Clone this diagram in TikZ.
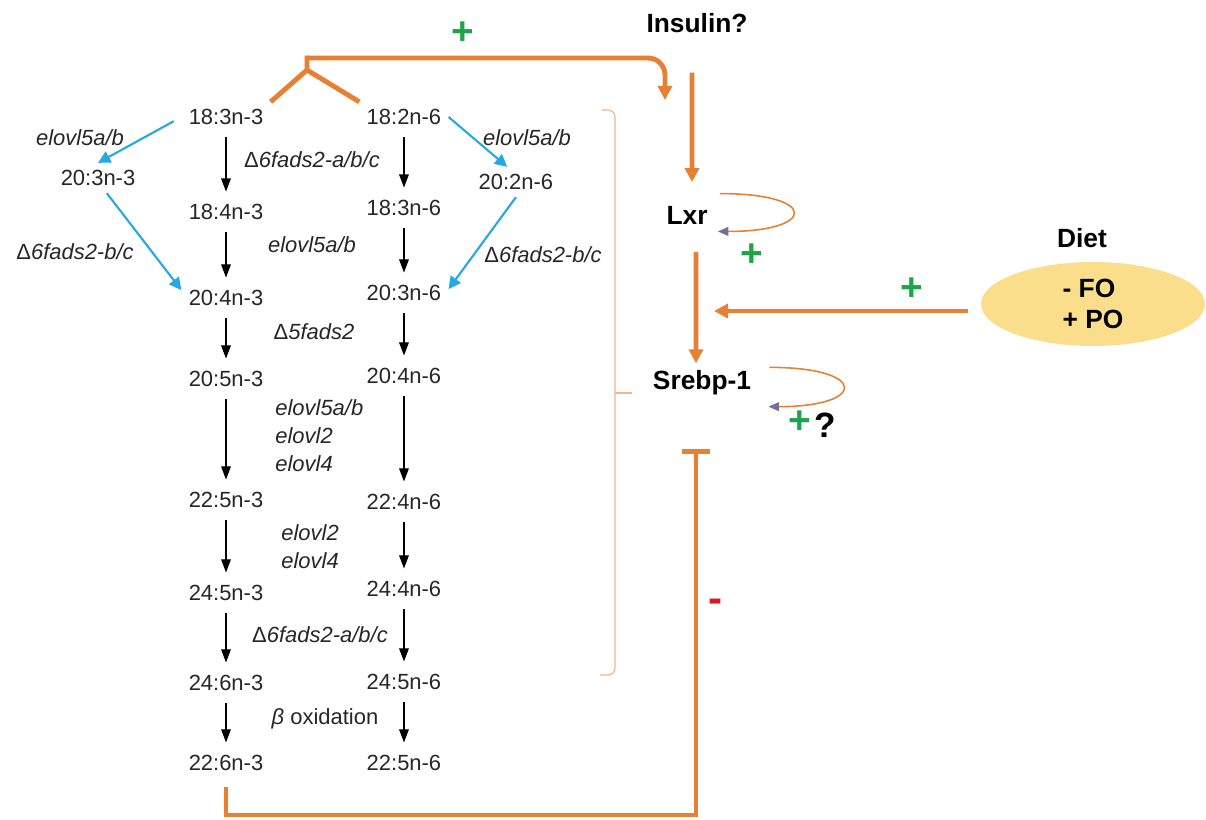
\documentclass[tikz,border=0pt]{standalone}
\usepackage{fontspec}
\setmainfont{Liberation Sans}
\usetikzlibrary{arrows.meta,positioning,shapes.geometric}

\definecolor{fborange}{RGB}{232,128,52}
\definecolor{fbblue}{RGB}{38,168,224}
\definecolor{fbgreen}{RGB}{30,165,75}
\definecolor{fbred}{RGB}{222,24,34}
\definecolor{fbyellow}{RGB}{250,222,140}
\definecolor{fbbrace}{RGB}{240,182,140}
\definecolor{fbtip}{RGB}{118,110,152}
\definecolor{fbtext}{RGB}{38,38,38}

\begin{document}
\begin{tikzpicture}[x=0.02cm,y=-0.02cm,node distance=1.8cm,
	acid/.style={text=fbtext,font=\fontsize{12.5}{16}\selectfont,inner sep=4pt},
	enzyme/.style={text=fbtext,font=\fontsize{12.5}{16}\selectfont\itshape,inner sep=0pt,align=left},
	factor/.style={font=\fontsize{15}{18}\selectfont\bfseries,inner sep=4pt},
	food/.style={ellipse,fill=fbyellow,minimum width=4.48cm,minimum height=1.68cm,inner sep=0pt,align=left,font=\fontsize{15}{17.6}\selectfont\bfseries},
	sign/.style={font=\fontsize{22}{24}\selectfont\bfseries,text=fbgreen,inner sep=0pt},
	conv/.style={-{Triangle[width=5.5pt,length=7.5pt]},line width=0.7pt,shorten <=3pt,shorten >=3pt},
	side/.style={-{Triangle[width=7pt,length=7pt]},fbblue,line width=1.2pt},
	act/.style={-{Triangle[width=8pt,length=8pt]},fborange,line width=2.8pt},
	selfloop/.style={-{Triangle[width=5pt,length=6pt,color=fbtip]},fborange,line width=0.9pt},
	block/.style={-{Bar[width=16pt]},fborange,line width=2.8pt}]
				\useasboundingbox (0,0) rectangle (1206,819);

				% n-3 series
				\node[acid] (n3a) at (226,117) {18:3n-3};
				\node[acid] (n3b) [below of=n3a, yshift=-0.1cm] {18:4n-3};
				\node[acid] (n3c) [below of=n3b, yshift=0.08cm] {20:4n-3};
				\node[acid] (n3d) [below of=n3c, yshift=0.18cm] {20:5n-3};
				\node[acid] (n3e) [below of=n3d, yshift=-0.62cm] {22:5n-3};
				\node[acid] (n3f) [below of=n3e, yshift=-0.06cm] {24:5n-3};
				\node[acid] (n3g) [below of=n3f] {24:6n-3};
				\node[acid] (n3h) [below of=n3g, yshift=0.2cm] {22:6n-3};
				\node[acid] (n3x) [left of=n3a, xshift=-0.76cm, yshift=-1.22cm] {20:3n-3};

				% n-6 series
				\node[acid] (n6a) [right of=n3a, xshift=1.76cm] {18:2n-6};
				\node[acid] (n6b) [below of=n6a, yshift=-0.02cm] {18:3n-6};
				\node[acid] (n6c) [below of=n6b, yshift=0.1cm] {20:3n-6};
				\node[acid] (n6d) [below of=n6c, yshift=0.14cm] {20:4n-6};
				\node[acid] (n6e) [below of=n6d, yshift=-0.72cm] {22:4n-6};
				\node[acid] (n6f) [below of=n6e, yshift=0.06cm] {24:4n-6};
				\node[acid] (n6g) [below of=n6f, yshift=-0.06cm] {24:5n-6};
				\node[acid] (n6h) [below of=n6g, yshift=0.18cm] {22:5n-6};
				\node[acid] (n6x) [right of=n6a, xshift=0.44cm, yshift=-1.3cm] {20:2n-6};

				% enzymes
				\node[enzyme] (e5l) at (80,138) {elovl5a/b};
				\node[enzyme] (e5r) at (527,138) {elovl5a/b};
				\node[enzyme] (f6top) at (312,160) {{\upshape Δ}6fads2-a/b/c};
				\node[enzyme] (f6l) at (75,252) {{\upshape Δ}6fads2-b/c};
				\node[enzyme] (e5m) at (312,245) {elovl5a/b};
				\node[enzyme] (f6r) at (543,255) {{\upshape Δ}6fads2-b/c};
				\node[enzyme] (f5) at (314,332) {{\upshape Δ}5fads2};
				\node[enzyme, anchor=west] (elg) at (275,436) {elovl5a/b\\elovl2\\elovl4};
				\node[enzyme, anchor=west] (elh) at (281,547) {elovl2\\elovl4};
				\node[enzyme] (f6low) at (320,635) {{\upshape Δ}6fads2-a/b/c};
				\node[acid, inner sep=0pt] (beta) at (325,719) {\textit{β} oxidation};

				% regulators
				\node[factor] (insulin) at (697,23) {Insulin?};
				\node[factor] (lxr) at (687,215) {Lxr};
				\node[factor] (srebp) at (702,383) {Srebp-1};
				\node[factor] (diet) at (1082,238) {Diet};
				\node[food] (food) at (1093,304) {- FO\\+ PO};

				\node[sign] (pins) at (463,33) {+};
				\node[sign] (plxr) at (752,255) {+};
				\node[sign] (pdiet) at (912,289) {+};
				\node[sign] (psrebp) at (800,422) {+};
				\node[sign, text=black, font=\fontsize{20}{24}\selectfont\bfseries] (qsrebp) at (825,425) {?};
				\node[sign, text=fbred, font=\fontsize{24}{24}\selectfont\bfseries] (minus) at (716,606) {-};

				\coordinate (fork) at (307,70);
				\coordinate (lxrin) at (665,100);
				\coordinate (dietin) at (714,311);
				\coordinate (floor) at (696,815);
				\coordinate (inhib) at (696,449);

				\draw[conv]
				(n3a) edge (n3b)
				(n3b) edge (n3c)
				(n3c) edge (n3d)
				(n3d) edge (n3e)
				(n3e) edge (n3f)
				(n3f) edge (n3g)
				(n3g) edge (n3h)
				(n6a) edge (n6b)
				(n6b) edge (n6c)
				(n6c) edge (n6d)
				(n6d) edge (n6e)
				(n6e) edge (n6f)
				(n6f) edge (n6g)
				(n6g) edge (n6h);

				\draw[side, shorten <=5pt] (n3a.west) -- (n3x.north);
				\draw[side] (n3x.-60) -- (n3c.170);
				\draw[side] (n6a.east) -- (n6x.120);
				\draw[side] (n6x.south) -- (n6c.5);

				% feedback
				\draw[act,-] (n3a.north east) -- (fork) -- (n6a.north west) (fork) -- ++(0,-14.5);
				\draw[act, rounded corners=0.34cm] (fork) ++(0,-12) -| (lxrin);
				\draw[act, shorten <=0.65cm, shorten >=0.33cm] ([xshift=-0.1cm]insulin.south) -- ([xshift=0.1cm]lxr.north);
				\draw[act, shorten <=0.41cm] ([xshift=0.18cm]lxr.south) -- ([xshift=-0.12cm]srebp.north);
				\draw[act, shorten <=0.26cm] (food.west |- dietin) -- (dietin);
				\draw[selfloop] ([xshift=0.1cm, yshift=0.1cm]lxr.north east) .. controls +(99,0) and +(99,0) .. ([xshift=0.06cm]lxr.south east);
				\draw[selfloop] ([xshift=0.22cm, yshift=-0.08cm]srebp.north east) .. controls +(99,0) and +(99,0) .. ([xshift=0.2cm, yshift=-0.08cm]srebp.south east);
				\draw[block, shorten <=5pt] (n3h.south) |- (floor) -- (inhib);

				% bracket
				\draw[fbbrace, line width=0.7pt, rounded corners=4pt] (602,110) -- (615,110) -- (615,675) -- (600,675);
				\draw[fbbrace, line width=0.7pt] (615,393) -- (632,393);
			\end{tikzpicture}
\end{document}
